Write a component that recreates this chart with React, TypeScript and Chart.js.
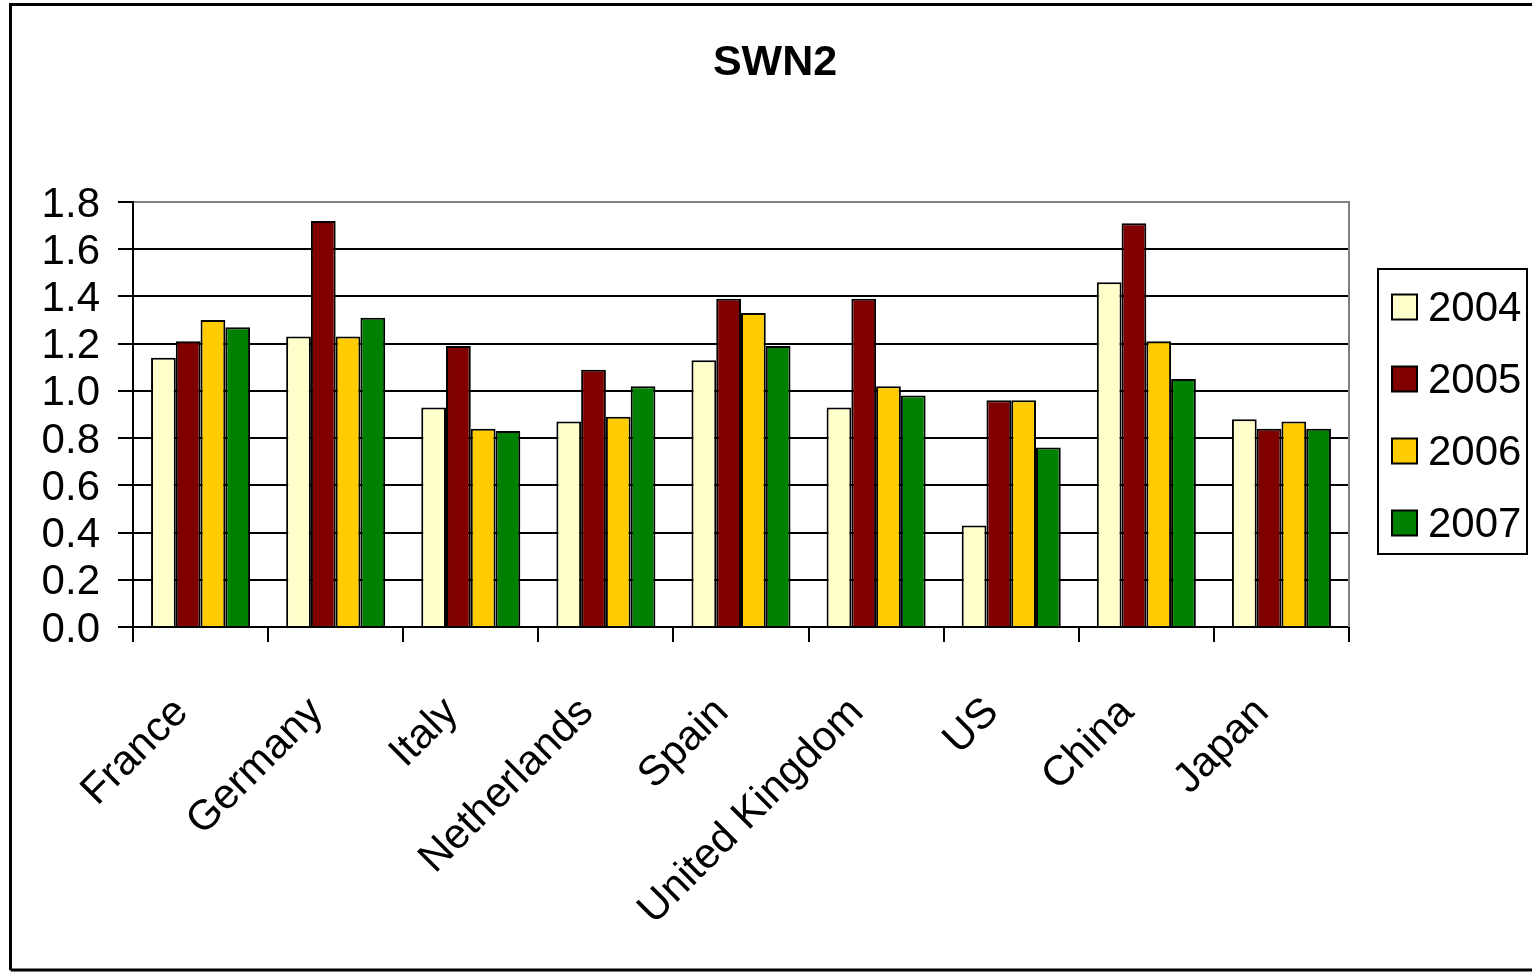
import React, { useEffect, useRef } from "react";
import { Chart, registerables } from "chart.js";

Chart.register(...registerables);

const categories = ["France", "Germany", "Italy", "Netherlands", "Spain", "United Kingdom", "US", "China", "Japan"];
const seriesNames = ["2004", "2005", "2006", "2007"];
const values2004 = [1.14, 1.23, 0.93, 0.87, 1.13, 0.93, 0.43, 1.46, 0.88];
const values2005 = [1.21, 1.72, 1.19, 1.09, 1.39, 1.39, 0.96, 1.71, 0.84];
const values2006 = [1.30, 1.23, 0.84, 0.89, 1.33, 1.02, 0.96, 1.21, 0.87];
const values2007 = [1.27, 1.31, 0.83, 1.02, 1.19, 0.98, 0.76, 1.05, 0.84];
const yTicks = [0, 0.2, 0.4, 0.6, 0.8, 1.0, 1.2, 1.4, 1.6, 1.8];
const seriesColors = ["#FFFFCC", "#800000", "#FFCC00", "#008000"];
const titleText = "SWN2";

const FONT = "Arial, 'Liberation Sans', sans-serif";

const framePlugin = {
  id: "framePlugin",
  beforeDraw(chart: any) {
    const ctx = chart.ctx;
    ctx.save();
    ctx.fillStyle = "#ffffff";
    ctx.fillRect(0, 0, chart.width, chart.height);
    ctx.strokeStyle = "#000000";
    ctx.lineWidth = 3;
    ctx.beginPath();
    ctx.moveTo(10.5, chart.height - 3);
    ctx.lineTo(10.5, 4.5);
    ctx.lineTo(chart.width, 4.5);
    ctx.moveTo(10.5, chart.height - 3);
    ctx.lineTo(chart.width, chart.height - 3);
    ctx.stroke();

    // title
    ctx.fillStyle = "#000000";
    ctx.font = "bold 43px " + FONT;
    ctx.textAlign = "center";
    ctx.textBaseline = "middle";
    ctx.fillText(titleText, 775, 63);
    ctx.restore();
  },
  afterDraw(chart: any) {
    const ctx = chart.ctx;
    const a = chart.chartArea;
    ctx.save();
    // right border of plot area
    ctx.strokeStyle = "#808080";
    ctx.lineWidth = 2;
    ctx.beginPath();
    ctx.moveTo(a.right, a.top - 1);
    ctx.lineTo(a.right, a.bottom);
    ctx.stroke();

    // legend
    const lx = a.right + 29;
    const ly = 269;
    const lw = 149;
    const lh = 285;
    ctx.strokeStyle = "#000000";
    ctx.lineWidth = 2;
    ctx.strokeRect(lx, ly, lw, lh);
    ctx.font = "42px " + FONT;
    ctx.textBaseline = "middle";
    ctx.textAlign = "left";
    chart.data.datasets.forEach((ds: any, i: number) => {
      const yc = ly + 38 + i * 72;
      ctx.fillStyle = ds.backgroundColor;
      ctx.fillRect(lx + 14, yc - 12.5, 25, 25);
      ctx.strokeStyle = "#000000";
      ctx.lineWidth = 2;
      ctx.strokeRect(lx + 14, yc - 12.5, 25, 25);
      ctx.fillStyle = "#000000";
      ctx.fillText(ds.label, lx + 50, yc + 2);
    });
    ctx.restore();
  },
};

export default function App() {
  const canvasRef = useRef<HTMLCanvasElement | null>(null);

  useEffect(() => {
    if (!canvasRef.current) return;
    const seriesValues = [values2004, values2005, values2006, values2007];
    const chart = new Chart(canvasRef.current, {
      type: "bar",
      data: {
        labels: categories,
        datasets: seriesNames.map((name, i) => ({
          label: name,
          data: seriesValues[i],
          backgroundColor: seriesColors[i],
          borderColor: "#000000",
          borderWidth: 2,
          categoryPercentage: 0.733,
          barPercentage: 1.0,
        })),
      },
      options: {
        responsive: false,
        animation: false,
        devicePixelRatio: 1,
        layout: { padding: { left: 18, right: 183, top: 202, bottom: 0 } },
        plugins: {
          legend: { display: false },
          tooltip: { enabled: false },
          title: { display: false },
        },
        scales: {
          x: {
            afterFit(scale: any) {
              scale.height = 346;
            },
            grid: {
              display: true,
              drawOnChartArea: false,
              offset: true,
              tickLength: 15,
              color: "#000000",
              tickColor: "#000000",
              lineWidth: 2,
            },
            border: { display: true, color: "#000000", width: 2 },
            ticks: {
              color: "#000000",
              font: { family: FONT, size: 42 },
              minRotation: 45,
              maxRotation: 45,
              autoSkip: false,
              padding: 46,
              labelOffset: -19,
            },
          },
          y: {
            min: 0,
            max: 1.8,
            afterFit(scale: any) {
              scale.width = 115;
            },
            afterBuildTicks(scale: any) {
              scale.ticks = yTicks.map((v) => ({ value: v }));
            },
            grid: {
              drawOnChartArea: true,
              tickLength: 15,
              lineWidth: 2,
              color: (c: any) => (c.tick && c.tick.value > 1.79 ? "#808080" : "#000000"),
              tickColor: "#000000",
            },
            border: { display: true, color: "#000000", width: 2 },
            ticks: {
              color: "#000000",
              font: { family: FONT, size: 42 },
              padding: 18,
              autoSkip: false,
              labelOffset: 3,
              callback: (v: any) => Number(v).toFixed(1),
            },
          },
        },
      },
      plugins: [framePlugin],
    });
    return () => chart.destroy();
  }, []);

  return (
    <div style={{ position: "fixed", left: 0, top: 0, width: 1532, height: 973, background: "#fff" }}>
      <canvas ref={canvasRef} width={1532} height={973} style={{ width: 1532, height: 973, display: "block" }} />
    </div>
  );
}
